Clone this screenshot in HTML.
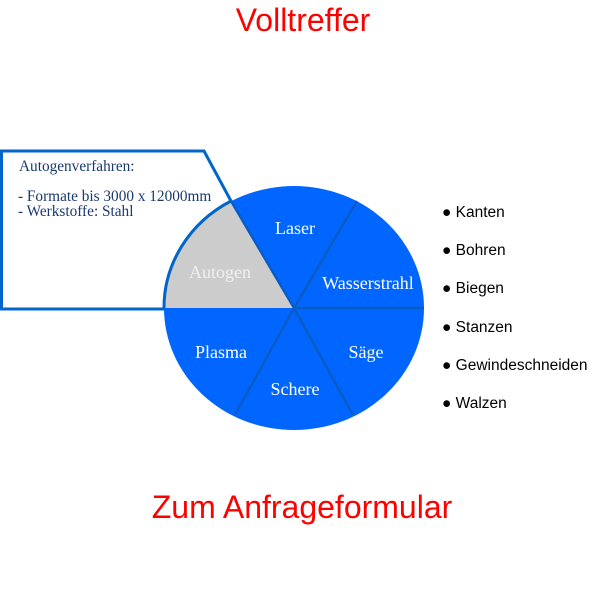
<!DOCTYPE html>
<html><head><meta charset="utf-8"><style>
html,body{margin:0;padding:0;background:#fff;width:600px;height:600px;overflow:hidden}
</style></head><body>
<svg width="600" height="600" xmlns="http://www.w3.org/2000/svg">
<text x="303" y="31" font-family="Liberation Sans, sans-serif" font-size="32" fill="#ff0000" text-anchor="middle">Volltreffer</text>
<text x="302" y="518" font-family="Liberation Sans, sans-serif" font-size="32" fill="#ff0000" text-anchor="middle">Zum Anfrageformular</text>
<ellipse cx="294" cy="308" rx="130" ry="122" fill="#0066ff"/>
<path d="M294,308 L164,308 A130,122 0 0 1 231,201 Z" fill="#cccccc"/>
<g stroke="#0a5cc4" stroke-width="2.5">
<line x1="294" y1="308" x2="231" y2="201"/>
<line x1="294" y1="308" x2="357" y2="201"/>
<line x1="294" y1="308" x2="424" y2="308"/>
<line x1="294" y1="308" x2="353" y2="415"/>
<line x1="294" y1="308" x2="235" y2="415"/>
</g>
<path d="M1.5,309 L1.5,151 L204,151 L231,201 A130,122 0 0 0 164,309 Z" fill="none" stroke="#0066cc" stroke-width="3"/>
<g font-family="Liberation Serif, serif" font-size="15.3" fill="#1a3a6e">
<text x="19" y="171">Autogenverfahren:</text>
<text x="18" y="201">- Formate bis 3000 x 12000mm</text>
<text x="18" y="216">- Werkstoffe: Stahl</text>
</g>
<g font-family="Liberation Serif, serif" font-size="18" fill="#fff" text-anchor="middle">
<text x="295" y="234">Laser</text>
<text x="368" y="289">Wasserstrahl</text>
<text x="366" y="358">Säge</text>
<text x="295" y="395">Schere</text>
<text x="221" y="358">Plasma</text>
<text x="220" y="278" fill="#f0f0f0">Autogen</text>
</g>
<g font-family="Liberation Sans, sans-serif" font-size="15.5" fill="#000">
<text x="442" y="217">● Kanten</text>
<text x="442" y="255">● Bohren</text>
<text x="442" y="293">● Biegen</text>
<text x="442" y="332">● Stanzen</text>
<text x="442" y="370">● Gewindeschneiden</text>
<text x="442" y="408">● Walzen</text>
</g>
</svg>
</body></html>
